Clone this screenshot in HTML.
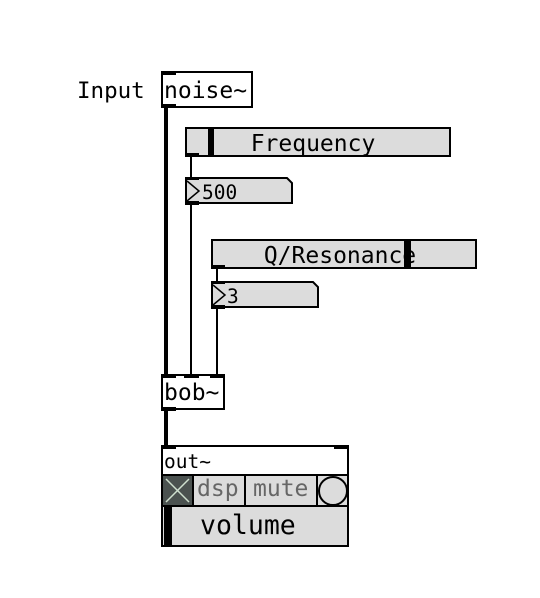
<!DOCTYPE html>
<html><head><style>
html,body{margin:0;padding:0;background:#fff;width:540px;height:598px;overflow:hidden}
svg text{font-family:"DejaVu Sans Mono","Liberation Mono",monospace}
</style></head><body>
<svg width="540" height="598" viewBox="0 0 540 598" xmlns="http://www.w3.org/2000/svg">
<line x1="166" y1="107" x2="166" y2="375" stroke="#000" stroke-width="4"/>
<line x1="191" y1="157" x2="191" y2="178" stroke="#000" stroke-width="2"/>
<line x1="191" y1="204" x2="191" y2="375" stroke="#000" stroke-width="2"/>
<line x1="217" y1="269" x2="217" y2="282" stroke="#000" stroke-width="2"/>
<line x1="217" y1="308" x2="217" y2="375" stroke="#000" stroke-width="2"/>
<line x1="166" y1="410" x2="166" y2="446" stroke="#000" stroke-width="4"/>

<text x="77" y="98" font-size="22.5">Input</text>
<rect x="162" y="72" width="90" height="35" fill="#fff" stroke="#000" stroke-width="2"/>
<rect x="161" y="71" width="15" height="4" fill="#000"/>
<rect x="161" y="104" width="15" height="4" fill="#000"/>
<text x="164" y="98" font-size="23">noise~</text>

<rect x="186" y="128" width="264" height="28" fill="#dcdcdc" stroke="#000" stroke-width="2"/>
<rect x="208" y="128" width="6" height="28" fill="#000"/>
<rect x="185" y="153" width="14" height="4" fill="#000"/>
<text x="313" y="151" font-size="23" text-anchor="middle">Frequency</text>

<path d="M186 178 H287 L292 183 V203 H186 Z" fill="#dcdcdc" stroke="#000" stroke-width="2"/>
<rect x="185" y="177" width="14" height="3" fill="#000"/>
<rect x="185" y="201" width="14" height="4" fill="#000"/>
<path d="M187 181 L199 191 L187 201" fill="none" stroke="#000" stroke-width="1.5"/>
<text x="202" y="199" font-size="19.5">500</text>

<rect x="212" y="240" width="264" height="28" fill="#dcdcdc" stroke="#000" stroke-width="2"/>
<rect x="404" y="240" width="7" height="28" fill="#000"/>
<rect x="211" y="265" width="14" height="4" fill="#000"/>
<text x="340" y="263" font-size="23" text-anchor="middle">Q/Resonance</text>

<path d="M212 282 H313 L318 287 V307 H212 Z" fill="#dcdcdc" stroke="#000" stroke-width="2"/>
<rect x="211" y="281" width="14" height="3" fill="#000"/>
<rect x="211" y="305" width="14" height="4" fill="#000"/>
<path d="M213 285 L225 295 L213 305" fill="none" stroke="#000" stroke-width="1.5"/>
<text x="227" y="303" font-size="19.5">3</text>

<rect x="162" y="375" width="62" height="34" fill="#fff" stroke="#000" stroke-width="2"/>
<rect x="161" y="374" width="15" height="4" fill="#000"/>
<rect x="184" y="374" width="15" height="4" fill="#000"/>
<rect x="210" y="374" width="15" height="4" fill="#000"/>
<rect x="161" y="407" width="15" height="4" fill="#000"/>
<text x="164" y="400" font-size="23">bob~</text>

<rect x="162" y="446" width="186" height="100" fill="#fff" stroke="#000" stroke-width="2"/>
<rect x="161" y="445" width="15" height="4" fill="#000"/>
<rect x="334" y="445" width="15" height="4" fill="#000"/>
<text x="164" y="468" font-size="19.5">out~</text>
<rect x="162" y="475" width="31" height="31" fill="#4b5250" stroke="#000" stroke-width="2"/>
<path d="M166 479 L189 502 M189 479 L166 502" stroke="#cfe0cf" stroke-width="1.5"/>
<rect x="193" y="475" width="52" height="31" fill="#dcdcdc" stroke="#000" stroke-width="2"/>
<text x="197" y="496" font-size="23" fill="#666">dsp</text>
<rect x="245" y="475" width="72" height="31" fill="#dcdcdc" stroke="#000" stroke-width="2"/>
<text x="253" y="496" font-size="23" fill="#666">mute</text>
<rect x="317" y="475" width="31" height="31" fill="#dcdcdc" stroke="#000" stroke-width="2"/>
<circle cx="333" cy="491" r="14" fill="none" stroke="#000" stroke-width="2"/>
<rect x="162" y="506" width="186" height="40" fill="#dcdcdc" stroke="#000" stroke-width="2"/>
<rect x="164" y="507" width="8" height="39" fill="#000"/>
<text x="200" y="534" font-size="26.5">volume</text>
</svg>
</body></html>
